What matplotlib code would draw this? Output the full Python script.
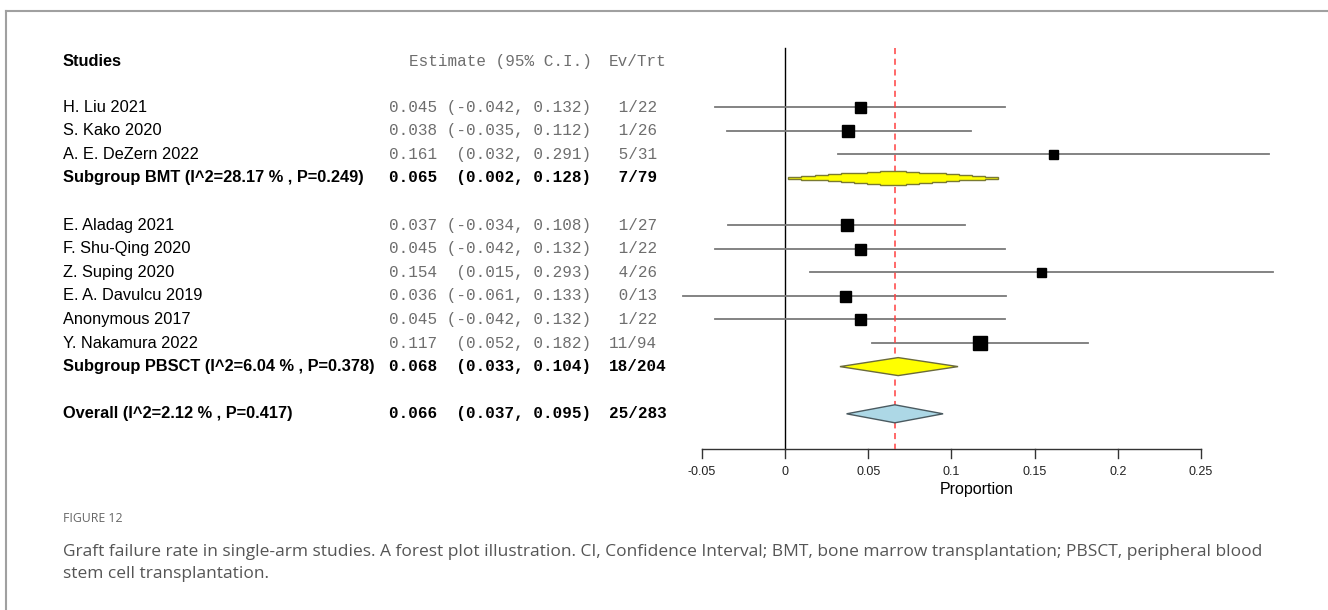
import matplotlib
matplotlib.use("Agg")
import matplotlib.pyplot as plt
from matplotlib.lines import Line2D
from matplotlib.patches import Polygon

# ---------------- data ----------------
studies = ["H. Liu 2021", "S. Kako 2020", "A. E. DeZern 2022",
           "E. Aladag 2021", "F. Shu-Qing 2020", "Z. Suping 2020",
           "E. A. Davulcu 2019", "Anonymous 2017", "Y. Nakamura 2022"]
groups = ["BMT", "BMT", "BMT", "PBSCT", "PBSCT", "PBSCT", "PBSCT", "PBSCT", "PBSCT"]
est = [0.045, 0.038, 0.161, 0.037, 0.045, 0.154, 0.036, 0.045, 0.117]
lo = [-0.042, -0.035, 0.032, -0.034, -0.042, 0.015, -0.061, -0.042, 0.052]
hi = [0.132, 0.112, 0.291, 0.108, 0.132, 0.293, 0.133, 0.132, 0.182]
events = [1, 1, 5, 1, 1, 4, 0, 1, 11]
totals = [22, 26, 31, 27, 22, 26, 13, 22, 94]
weights = [11, 12, 9, 12, 11, 9, 11, 11, 14]   # box size (relative weight)

sub_names = ["BMT", "PBSCT"]
sub_est = [0.065, 0.068]
sub_lo = [0.002, 0.033]
sub_hi = [0.128, 0.104]
sub_i2 = [28.17, 6.04]
sub_p = [0.249, 0.378]
sub_ev = [7, 18]
sub_n = [79, 204]

overall_est, overall_lo, overall_hi = 0.066, 0.037, 0.095
overall_i2, overall_p = 2.12, 0.417
overall_ev, overall_n = 25, 283

xticks = [-0.05, 0, 0.05, 0.1, 0.15, 0.2, 0.25]
xtick_labels = ["-0.05", "0", "0.05", "0.1", "0.15", "0.2", "0.25"]

caption_title = "FIGURE 12"
caption_lines = ["Graft failure rate in single-arm studies. A forest plot illustration. CI, Confidence Interval; BMT, bone marrow transplantation; PBSCT, peripheral blood",
                 "stem cell transplantation."]

# ---------------- layout helpers ----------------
W, H = 1328, 610
X0PX, XSCALE = 785, 1664.0     # pixel of x=0, pixels per unit
Y0PX, YSTEP = 107, 23.6        # pixel of first row, pixels per row

def X(px):
    return (px - X0PX) / XSCALE

def Y(py):
    return (py - Y0PX) / YSTEP

fig = plt.figure(figsize=(W / 100, H / 100), dpi=100)
fig.patch.set_facecolor("white")
ax = fig.add_axes([0, 0, 1, 1])
ax.set_xlim(X(0), X(W))
ax.set_ylim(Y(H), Y(0))
ax.axis("off")

sans = "Liberation Sans"
mono = "Liberation Mono"
FS = 11.8
MFS = 11.55
gray_txt = "#6e6e6e"

# frame
fig.add_artist(Line2D([6 / W, 1], [1 - 11 / H, 1 - 11 / H], color="#a0a0a0", lw=1.5))
fig.add_artist(Line2D([6 / W, 6 / W], [1 - 11 / H, 0], color="#a0a0a0", lw=1.5))

# header
hy = Y(61)
ax.text(X(63), hy, "Studies", fontsize=FS, fontweight="bold", family=sans, va="center")
ax.text(X(592), hy, "Estimate (95% C.I.)", fontsize=MFS, family=mono, color=gray_txt, va="center", ha="right")
ax.text(X(609), hy, "Ev/Trt", fontsize=MFS, family=mono, color=gray_txt, va="center")

def est_str(e, l, h):
    return f"{e:.3f} " + ("(" + f"{l:.3f}").rjust(7) + f", {h:.3f})"

def diamond(y, l, e, h, half_px, fc, ec, steps=0):
    hh = half_px / YSTEP
    if steps == 0:
        pts = [(l, y), (e, y - hh), (h, y), (e, y + hh)]
    else:
        top = []
        # stair-stepped diamond outline
        for k in range(steps):
            x0 = l + (e - l) * k / steps
            x1 = l + (e - l) * (k + 1) / steps
            hk = hh * (k + 1) / steps
            top += [(x0, y - hk), (x1, y - hk)]
        for k in range(steps):
            x0 = e + (h - e) * k / steps
            x1 = e + (h - e) * (k + 1) / steps
            hk = hh * (steps - k) / steps
            top += [(x0, y - hk), (x1, y - hk)]
        bot = [(px, 2 * y - py) for (px, py) in reversed(top)]
        pts = [(l, y)] + top + [(h, y)] + bot
    ax.add_patch(Polygon(pts, closed=True, facecolor=fc, edgecolor=ec, lw=1.0, zorder=4))

row = 0
for g_i, g in enumerate(sub_names):
    for i, grp in enumerate(groups):
        if grp != g:
            continue
        y = row
        ax.plot([lo[i], hi[i]], [y, y], color="#7a7a7a", lw=1.3, zorder=2)
        ax.plot([est[i]], [y], marker="s", color="black", markersize=weights[i] * 0.72, zorder=5)
        ax.text(X(63), y, studies[i], fontsize=FS, family=sans, va="center")
        ax.text(X(389), y, est_str(est[i], lo[i], hi[i]), fontsize=MFS, family=mono,
                color=gray_txt, va="center")
        ax.text(X(609), y, f"{events[i]}/{totals[i]}".rjust(5), fontsize=MFS, family=mono,
                color=gray_txt, va="center")
        row += 1
    y = row
    if g_i == 0:
        diamond(y, sub_lo[g_i], sub_est[g_i], sub_hi[g_i], 7, "#ffff00", "#7a7a30", steps=8)
    else:
        diamond(y, sub_lo[g_i], sub_est[g_i], sub_hi[g_i], 9, "#ffff00", "#6b6b3a")
    ax.text(X(63), y, f"Subgroup {g} (I^2={sub_i2[g_i]:.2f} % , P={sub_p[g_i]:.3f})",
            fontsize=FS, fontweight="bold", family=sans, va="center")
    ax.text(X(389), y, est_str(sub_est[g_i], sub_lo[g_i], sub_hi[g_i]), fontsize=MFS,
            family=mono, fontweight="bold", va="center")
    ax.text(X(609), y, f"{sub_ev[g_i]}/{sub_n[g_i]}".rjust(5), fontsize=MFS, family=mono,
            fontweight="bold", va="center")
    row += 2

y = row
diamond(y, overall_lo, overall_est, overall_hi, 9, "#add8e6", "#4a5a60")
ax.text(X(63), y, f"Overall (I^2={overall_i2:.2f} % , P={overall_p:.3f})",
        fontsize=FS, fontweight="bold", family=sans, va="center")
ax.text(X(389), y, est_str(overall_est, overall_lo, overall_hi), fontsize=MFS,
        family=mono, fontweight="bold", va="center")
ax.text(X(609), y, f"{overall_ev}/{overall_n}".rjust(5), fontsize=MFS, family=mono,
        fontweight="bold", va="center")

# reference lines
ax.plot([0, 0], [Y(48), Y(449)], color="black", lw=1.0, zorder=1)
ax.plot([overall_est, overall_est], [Y(48), Y(449)], color="#ff4040", lw=1.1,
        ls=(0, (4, 3)), zorder=3)

# x axis
ax.plot([xticks[0], xticks[-1]], [Y(449), Y(449)], color="#333333", lw=1.0)
for t, lab in zip(xticks, xtick_labels):
    ax.plot([t, t], [Y(449), Y(458)], color="#333333", lw=1.0)
    ax.text(t, Y(472), lab, fontsize=9, family=sans, ha="center", va="center", color="#222222")
ax.text(X(977), Y(489), "Proportion", fontsize=11.5, family=sans, ha="center", va="center")

# caption
ax.text(X(63), Y(519), caption_title, fontsize=8.8, family="Open Sans", color="#666666",
        va="center")
for k, line in enumerate(caption_lines):
    ax.text(X(63), Y(552 + 22 * k), line, fontsize=12.5, family="Open Sans", color="#555555",
            va="center")

fig.savefig("out.png", dpi=100, facecolor="white")
